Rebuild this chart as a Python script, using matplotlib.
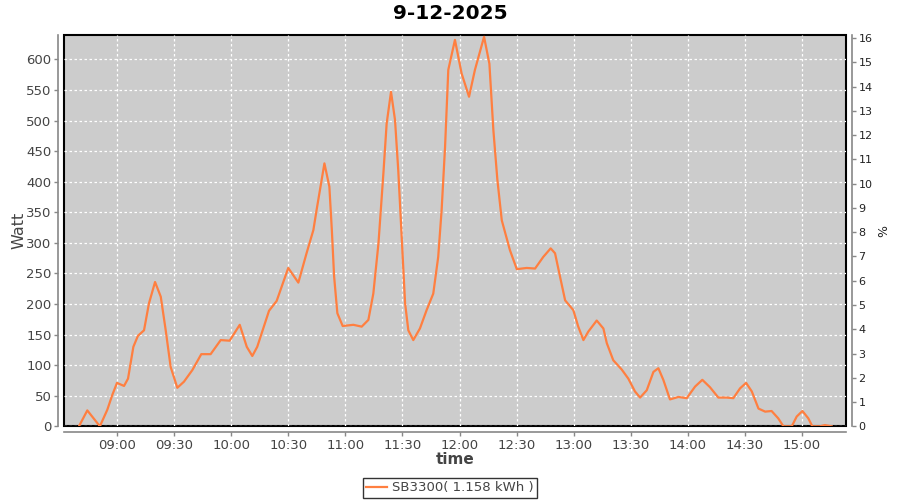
import matplotlib
matplotlib.use("Agg")
import matplotlib.pyplot as plt
import matplotlib.dates as mdates
import pandas as pd

# --- data (time of day, Watt) ---
DAY = "2025-12-09"
TIMES = [
    "08:40:00", "08:44:24", "08:51:00", "08:54:54", "08:57:30", "09:00:00",
    "09:03:42", "09:05:48", "09:08:36", "09:11:00", "09:14:12", "09:16:48",
    "09:20:00", "09:23:00", "09:25:36", "09:28:12", "09:31:42", "09:35:12",
    "09:39:36", "09:44:18", "09:49:12", "09:54:30", "09:59:12", "10:04:30",
    "10:08:12", "10:11:06", "10:13:42", "10:19:54", "10:23:54", "10:30:00",
    "10:35:18", "10:39:42", "10:43:12", "10:44:54", "10:49:00", "10:51:36",
    "10:52:54", "10:54:06", "10:55:48", "10:58:36", "11:04:12", "11:08:36",
    "11:12:06", "11:14:42", "11:17:24", "11:20:00", "11:21:42", "11:24:00",
    "11:26:06", "11:27:48", "11:29:36", "11:31:24", "11:33:06", "11:35:42",
    "11:39:12", "11:42:42", "11:46:12", "11:48:48", "11:50:36", "11:52:24",
    "11:54:06", "11:57:36", "12:01:06", "12:05:00", "12:08:06", "12:12:54",
    "12:15:42", "12:17:48", "12:19:54", "12:22:12", "12:26:30", "12:30:06",
    "12:35:18", "12:39:42", "12:44:00", "12:47:54", "12:50:12", "12:52:48",
    "12:55:30", "12:59:48", "13:02:24", "13:05:06", "13:07:42", "13:12:06",
    "13:15:36", "13:17:24", "13:20:48", "13:25:12", "13:28:42", "13:32:12",
    "13:34:54", "13:38:24", "13:41:54", "13:44:30", "13:47:06", "13:50:36",
    "13:55:00", "13:59:24", "14:03:48", "14:07:36", "14:11:36", "14:16:00",
    "14:20:24", "14:23:54", "14:27:24", "14:30:36", "14:33:36", "14:37:06",
    "14:40:36", "14:44:00", "14:47:30", "14:50:12", "14:54:36", "14:57:12",
    "15:00:12", "15:03:18", "15:05:24", "15:09:24", "15:12:00", "15:15:36",
]
WATT = [
    0, 26, 0, 27, 51, 71,
    66, 78, 130, 148, 157, 201,
    236, 212, 157, 97, 63, 73,
    92, 118, 118, 141, 140, 166,
    130, 115, 130, 189, 205, 259,
    235, 284, 321, 354, 430, 392,
    321, 245, 185, 164, 166, 163,
    174, 217, 299, 414, 495, 547,
    501, 419, 310, 201, 157, 141,
    160, 190, 217, 277, 354, 457,
    583, 632, 577, 539, 583, 637,
    593, 484, 403, 337, 288, 257,
    259, 258, 277, 291, 283, 245,
    206, 190, 163, 141, 155, 173,
    160, 136, 108, 93, 78, 57,
    47, 59, 89, 95, 76, 44,
    48, 46, 65, 76, 64, 47,
    47, 46, 62, 71, 57, 29,
    24, 25, 13, 0, 0, 16,
    25, 13, 0, 0, 2, 0,
]
SERIES_LABEL = "SB3300( 1.158 kWh )"
TITLE = "9-12-2025"

LINE_COLOR = "#ff7f40"
TEXT_COLOR = "#444444"
AXIS_GRAY = "#888888"

times = pd.to_datetime([f"{DAY} {t}" for t in TIMES])

fig = plt.figure(figsize=(9, 5), dpi=100)
ax = fig.add_axes([64 / 900, 1 - 426.3 / 500, (846 - 64) / 900, (426.3 - 35) / 500])
ax.set_facecolor("#cccccc")

ax.plot(times, WATT, color=LINE_COLOR, linewidth=1.6, label=SERIES_LABEL, zorder=3,
        solid_joinstyle="round")

ax.set_xlim(pd.Timestamp(f"{DAY} 08:32:09"), pd.Timestamp(f"{DAY} 15:23:06"))
ax.set_ylim(0, 640)
ax.set_yticks(range(0, 601, 50))
ax.xaxis.set_major_locator(mdates.MinuteLocator(byminute=[0, 30]))
ax.xaxis.set_major_formatter(mdates.DateFormatter("%H:%M"))

ax.grid(True, color="white", linestyle=(0, (2, 2)), linewidth=0.9)
ax.set_axisbelow(True)

# black plot border, gray axis lines set slightly outward
ax.patch.set_edgecolor("black")
ax.patch.set_linewidth(1.5)
for side in ["top", "right"]:
    ax.spines[side].set_visible(False)
for side in ["left", "bottom"]:
    ax.spines[side].set_position(("outward", 4))
    ax.spines[side].set_color(AXIS_GRAY)
    ax.spines[side].set_linewidth(1.2)
ax.tick_params(axis="both", colors=AXIS_GRAY, length=3, width=1, labelsize=9.5,
               labelcolor=TEXT_COLOR, pad=2)

ax.set_ylabel("Watt", fontsize=11.5, color=TEXT_COLOR, labelpad=0)
ax.set_xlabel("time", fontsize=11, color=TEXT_COLOR, fontweight="bold", labelpad=0)

# right percent axis
ax2 = ax.twinx()
ax2.set_ylim(0, 640 / 39.68)
ax2.set_yticks(range(0, 17))
for side in ["top", "left", "bottom"]:
    ax2.spines[side].set_visible(False)
ax2.spines["right"].set_position(("outward", 4))
ax2.spines["right"].set_color(AXIS_GRAY)
ax2.spines["right"].set_linewidth(1.2)
ax2.tick_params(axis="y", colors=AXIS_GRAY, length=3, width=1, labelsize=8,
                labelcolor="#222222", pad=2)
ax2.set_ylabel("%", fontsize=9, color="#222222", labelpad=3)
ax.set_zorder(ax2.get_zorder() + 1)
ax.patch.set_visible(True)
ax2.patch.set_visible(False)

fig.suptitle(TITLE, x=450 / 900, y=1 - 4 / 500, va="top", fontsize=14.5,
             fontweight="bold", color="black")

leg = fig.legend(loc="center", bbox_to_anchor=(450 / 900, 1 - 488 / 500), frameon=True,
                 fancybox=False, fontsize=9.5, handlelength=1.6, handletextpad=0.4,
                 borderpad=0.25, borderaxespad=0)
leg.get_frame().set_edgecolor("black")
leg.get_frame().set_linewidth(1.0)
for txt in leg.get_texts():
    txt.set_color(TEXT_COLOR)

fig.savefig("out.png", dpi=100, facecolor="white")
